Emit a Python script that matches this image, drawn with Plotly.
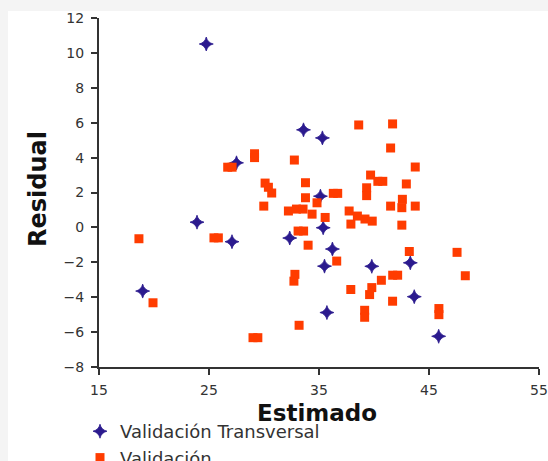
import plotly.graph_objects as go

# ---- data ----
cv_estimado = [24.75, 33.59, 35.31, 27.5, 35.13, 23.91, 35.38, 27.09, 32.34, 36.22,
               35.5, 39.8, 43.3, 18.97, 43.66, 35.72, 45.88]
cv_residual = [10.51, 5.59, 5.13, 3.70, 1.79, 0.30, -0.02, -0.82, -0.61, -1.24,
               -2.22, -2.23, -2.03, -3.65, -3.97, -4.88, -6.24]

val_estimado = [18.63, 19.91, 25.45, 25.85, 26.7, 27.1, 29.14, 29.14, 29.0, 29.44,
                29.98, 30.1, 30.4, 30.7, 32.76, 32.22, 33.77, 33.77, 32.95, 33.55,
                34.82, 34.37, 35.56, 33.1, 33.6, 34.01, 36.3, 36.7, 36.61, 32.81,
                32.72, 33.19, 38.61, 41.69, 41.51, 43.75, 39.69, 40.35, 40.8, 42.94,
                39.33, 39.33, 42.58, 42.53, 41.51, 43.75, 42.53, 37.74, 38.49, 39.18,
                39.84, 37.9, 43.21, 47.55, 48.3, 37.89, 39.8, 39.6, 40.67, 41.7,
                42.15, 41.69, 39.15, 39.15, 45.9, 45.9]
val_residual = [-0.65, -4.32, -0.6, -0.6, 3.45, 3.45, 4.22, 4.0, -6.32, -6.32,
                1.22, 2.54, 2.3, 1.97, 3.86, 0.94, 2.56, 1.7, 1.05, 1.05,
                1.41, 0.76, 0.57, -0.21, -0.21, -1.02, 1.95, 1.95, -1.93, -2.69,
                -3.08, -5.61, 5.87, 5.93, 4.55, 3.46, 3.0, 2.64, 2.64, 2.49,
                2.27, 1.82, 1.61, 1.13, 1.22, 1.22, 0.13, 0.94, 0.65, 0.48,
                0.36, 0.19, -1.38, -1.43, -2.77, -3.56, -3.45, -3.85, -3.03, -2.74,
                -2.74, -4.23, -4.75, -5.15, -4.65, -5.0]

series_names = ["Validación Transversal", "Validación"]
x_title = "Estimado"
y_title = "Residual"
x_ticks = [15, 25, 35, 45, 55]
y_ticks = [-8, -6, -4, -2, 0, 2, 4, 6, 8, 10, 12]

W, H = 548, 461
ML, MR, MT, MB = 99, 9, 18, 94
font_family = "DejaVu Sans, Verdana, sans-serif"
pw = W - ML - MR
ph = H - MT - MB


def px_x(px):
    return (px - ML) / pw


def px_y(py):
    return (H - MB - py) / ph


fig = go.Figure()
fig.add_trace(go.Scatter(
    x=cv_estimado, y=cv_residual, mode="markers", name=series_names[0],
    marker=dict(symbol="star-diamond", size=10, color="#2b1a8e",
                line=dict(width=0.8, color="#2b1a8e")),
))
fig.add_trace(go.Scatter(
    x=val_estimado, y=val_residual, mode="markers", name=series_names[1],
    marker=dict(symbol="square", size=9, color="#ff3c00", line=dict(width=0)),
))

# white panel over the light grey page
fig.add_shape(type="rect", xref="paper", yref="paper",
              x0=px_x(8), x1=px_x(W + 5), y0=px_y(H + 5), y1=px_y(11),
              fillcolor="white", line=dict(width=0), layer="below")

axis_common = dict(
    showgrid=False, zeroline=False, showline=True, linecolor="#333333",
    linewidth=2, ticks="outside", ticklen=6, tickwidth=1.5, tickcolor="#333333",
    tickfont=dict(family=font_family, size=14, color="#333333"),
)

fig.add_annotation(text="<b>" + x_title + "</b>", xref="paper", yref="paper",
                   x=px_x(317), y=px_y(413), showarrow=False,
                   xanchor="center", yanchor="middle",
                   font=dict(family=font_family, size=23, color="#111111"))
fig.add_annotation(text="<b>" + y_title + "</b>", xref="paper", yref="paper",
                   x=px_x(38), y=px_y(189), showarrow=False, textangle=-90,
                   xanchor="center", yanchor="middle",
                   font=dict(family=font_family, size=24, color="#111111"))

fig.update_layout(
    width=W, height=H,
    margin=dict(l=ML, r=MR, t=MT, b=MB, pad=0, autoexpand=False),
    paper_bgcolor="#f4f4f4", plot_bgcolor="white",
    font=dict(family=font_family, color="#222222"),
    xaxis=dict(range=[15, 55], tickvals=x_ticks, ticklabelstandoff=3, **axis_common),
    yaxis=dict(range=[-8, 12], tickvals=y_ticks, ticklabelstandoff=4, **axis_common),
    legend=dict(xref="container", yref="container", x=80 / W, y=1 - 413 / H,
                xanchor="left", yanchor="top", bgcolor="rgba(0,0,0,0)",
                font=dict(family=font_family, size=18, color="#333333"),
                itemsizing="trace", tracegroupgap=0),
    showlegend=True,
)

fig.write_html("out.html",
               config={"displayModeBar": False},
               post_script="document.body.style.margin='0px';"
                           "document.body.style.background='#f4f4f4';")
